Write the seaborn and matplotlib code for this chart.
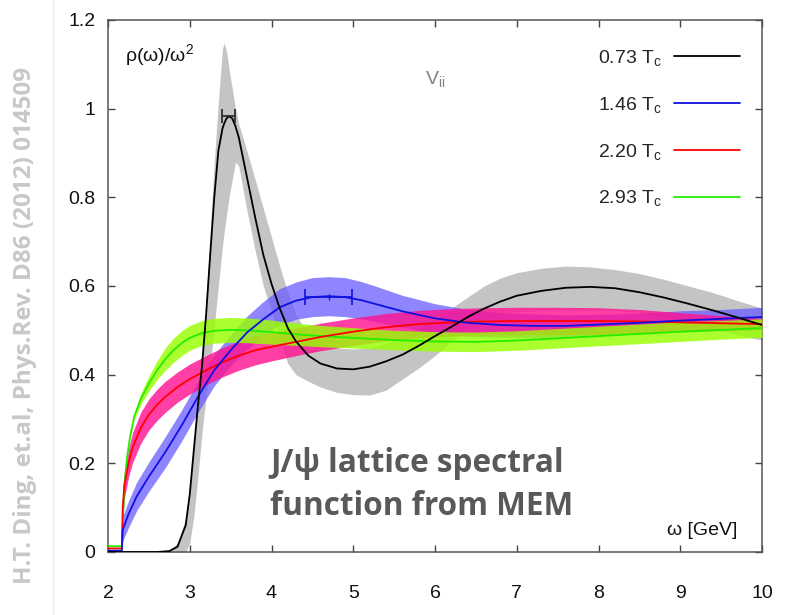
import matplotlib
matplotlib.use("Agg")
import matplotlib.pyplot as plt
from matplotlib.lines import Line2D
import seaborn as sns

# ---------------- data ----------------
# 0.73 Tc (black curve + grey band)
bx = [2.00, 2.60, 2.75, 2.85, 2.95, 3.00, 3.05, 3.10, 3.15, 3.20, 3.25, 3.30, 3.35, 3.40, 3.42,
      3.45, 3.48, 3.52, 3.56, 3.60, 3.65, 3.70, 3.80, 3.90, 4.00, 4.10, 4.20, 4.30, 4.45, 4.60,
      4.80, 5.00, 5.20, 5.40, 5.60, 5.80, 6.00, 6.20, 6.40, 6.60, 6.80, 7.00, 7.30, 7.60, 7.90,
      8.20, 8.50, 8.80, 9.10, 9.40, 9.70, 10.0]
by = [0.0, 0.0, 0.002, 0.012, 0.06, 0.13, 0.23, 0.33, 0.42, 0.535, 0.67, 0.80, 0.905, 0.955, 0.966,
      0.978, 0.983, 0.978, 0.96, 0.935, 0.89, 0.845, 0.755, 0.67, 0.605, 0.55, 0.505, 0.475, 0.443, 0.425,
      0.414, 0.412, 0.418, 0.43, 0.445, 0.465, 0.487, 0.508, 0.53, 0.549, 0.565, 0.578, 0.589, 0.596, 0.598,
      0.595, 0.586, 0.574, 0.56, 0.545, 0.529, 0.512]
by_hi = [0.0, 0.0, 0.004, 0.02, 0.075, 0.15, 0.25, 0.35, 0.45, 0.57, 0.72, 0.88, 1.017, 1.135, 1.148,
         1.13, 1.09, 1.045, 1.0, 0.965, 0.935, 0.904, 0.84, 0.775, 0.71, 0.645, 0.585, 0.535, 0.49, 0.47,
         0.46, 0.458, 0.46, 0.47, 0.485, 0.505, 0.525, 0.55, 0.575, 0.60, 0.618, 0.63, 0.64, 0.645, 0.643,
         0.637, 0.628, 0.615, 0.60, 0.585, 0.567, 0.55]
by_lo = [0.0, 0.0, 0.0, 0.0, 0.0, 0.02, 0.08, 0.17, 0.27, 0.35, 0.42, 0.51, 0.60, 0.69, 0.72,
         0.76, 0.80, 0.84, 0.88, 0.87, 0.82, 0.77, 0.68, 0.60, 0.542, 0.48, 0.425, 0.40, 0.385, 0.372,
         0.36, 0.355, 0.354, 0.365, 0.39, 0.415, 0.443, 0.475, 0.505, 0.525, 0.537, 0.542, 0.545, 0.546, 0.546,
         0.545, 0.54, 0.53, 0.52, 0.505, 0.49, 0.478]

# 1.46 Tc (blue)
ux = [2.00, 2.17, 2.18, 2.25, 2.35, 2.5, 2.7, 2.9, 3.1, 3.3, 3.5, 3.7, 3.9, 4.1, 4.3, 4.5, 4.7,
      4.9, 5.1, 5.3, 5.6, 6.0, 6.4, 6.8, 7.2, 7.6, 8.0, 8.5, 9.0, 9.5, 10.0]
uy = [0.003, 0.003, 0.05, 0.085, 0.125, 0.17, 0.225, 0.285, 0.35, 0.41, 0.455, 0.495, 0.525, 0.552,
      0.567, 0.575, 0.577, 0.575, 0.568, 0.558, 0.543, 0.527, 0.517, 0.512, 0.51, 0.51, 0.513, 0.517,
      0.522, 0.526, 0.53]
uy_lo = [0.003, 0.003, 0.025, 0.055, 0.093, 0.137, 0.19, 0.25, 0.315, 0.375, 0.42, 0.458, 0.487, 0.512,
         0.525, 0.531, 0.533, 0.531, 0.526, 0.518, 0.507, 0.494, 0.487, 0.484, 0.483, 0.485, 0.49, 0.495,
         0.50, 0.505, 0.508]
uy_hi = [0.003, 0.003, 0.08, 0.115, 0.157, 0.203, 0.26, 0.32, 0.385, 0.445, 0.49, 0.532, 0.565, 0.594,
         0.609, 0.619, 0.621, 0.619, 0.61, 0.598, 0.579, 0.56, 0.547, 0.54, 0.537, 0.535, 0.536, 0.539,
         0.544, 0.547, 0.552]

# 2.20 Tc (red)
rx = [2.00, 2.17, 2.18, 2.20, 2.25, 2.3, 2.4, 2.5, 2.6, 2.7, 2.85, 3.0, 3.2, 3.4, 3.6, 3.8, 4.0,
      4.3, 4.6, 5.0, 5.4, 5.8, 6.2, 6.6, 7.0, 7.5, 8.0, 8.5, 9.0, 9.5, 10.0]
ry = [0.008, 0.008, 0.10, 0.15, 0.20, 0.235, 0.28, 0.31, 0.332, 0.35, 0.372, 0.39, 0.41, 0.428, 0.443,
      0.455, 0.463, 0.474, 0.485, 0.497, 0.507, 0.514, 0.518, 0.52, 0.521, 0.521, 0.521, 0.52, 0.518,
      0.516, 0.514]
ry_lo = [0.008, 0.008, 0.075, 0.12, 0.168, 0.201, 0.245, 0.275, 0.297, 0.315, 0.338, 0.356, 0.377, 0.395,
         0.41, 0.422, 0.431, 0.443, 0.454, 0.466, 0.476, 0.483, 0.487, 0.489, 0.49, 0.49, 0.491, 0.493,
         0.496, 0.499, 0.501]
ry_hi = [0.008, 0.008, 0.125, 0.18, 0.232, 0.269, 0.315, 0.345, 0.367, 0.385, 0.406, 0.424, 0.443, 0.461,
         0.476, 0.488, 0.495, 0.505, 0.516, 0.528, 0.538, 0.545, 0.549, 0.551, 0.552, 0.552, 0.551, 0.547,
         0.54, 0.533, 0.527]

# 2.93 Tc (green)
gx = [2.00, 2.17, 2.18, 2.20, 2.23, 2.27, 2.32, 2.4, 2.5, 2.6, 2.7, 2.8, 2.9, 3.0, 3.15, 3.3, 3.5,
      3.7, 4.0, 4.3, 4.6, 5.0, 5.5, 6.0, 6.5, 7.0, 7.5, 8.0, 8.5, 9.0, 9.5, 10.0]
gy = [0.013, 0.013, 0.06, 0.15, 0.21, 0.26, 0.305, 0.345, 0.38, 0.41, 0.435, 0.455, 0.471, 0.483, 0.494,
      0.499, 0.501, 0.5, 0.496, 0.491, 0.487, 0.483, 0.478, 0.475, 0.474, 0.477, 0.482, 0.487, 0.492,
      0.497, 0.501, 0.505]
gy_lo = [0.013, 0.013, 0.06, 0.15, 0.208, 0.256, 0.298, 0.333, 0.363, 0.389, 0.41, 0.428, 0.443, 0.455,
         0.466, 0.471, 0.473, 0.472, 0.469, 0.466, 0.463, 0.46, 0.456, 0.453, 0.452, 0.455, 0.46, 0.465,
         0.47, 0.475, 0.48, 0.484]
gy_hi = [0.013, 0.013, 0.06, 0.15, 0.212, 0.264, 0.312, 0.357, 0.397, 0.431, 0.46, 0.482, 0.499, 0.511,
         0.522, 0.527, 0.529, 0.528, 0.523, 0.516, 0.511, 0.506, 0.50, 0.497, 0.496, 0.499, 0.504, 0.509,
         0.514, 0.519, 0.522, 0.526]

# peak positions with horizontal error bars
pk_black_x, pk_black_y, pk_black_err = 3.475, 0.983, 0.075
pk_blue_x, pk_blue_y, pk_blue_err = 4.70, 0.575, 0.29

labels = ["0.73 T$_{c}$", "1.46 T$_{c}$", "2.20 T$_{c}$", "2.93 T$_{c}$"]

# ---------------- style ----------------
sns.set_style("ticks")
plt.rcParams["font.family"] = ["Liberation Sans", "DejaVu Sans"]
plt.rcParams["mathtext.default"] = "regular"

W, H = 794, 615
fig = plt.figure(figsize=(W / 100, H / 100), dpi=100)
ax = fig.add_axes([108 / W, 1 - 552 / H, 654 / W, 532 / H])

# bands
ax.fill_between(bx, by_lo, by_hi, color="#c4c4c4", lw=0, zorder=1)
ax.fill_between(ux, uy_lo, uy_hi, color="#6a5cff", alpha=0.75, lw=0, zorder=2)
ax.fill_between(rx, ry_lo, ry_hi, color="#ff1493", alpha=0.82, lw=0, zorder=3)
ax.fill_between(gx, gy_lo, gy_hi, color="#99ff00", alpha=0.82, lw=0, zorder=4)

# central lines
sns.lineplot(x=bx, y=by, color="black", lw=1.3, label=labels[0], ax=ax, zorder=10)
sns.lineplot(x=ux, y=uy, color="#1010e0", lw=1.3, label=labels[1], ax=ax, zorder=9)
sns.lineplot(x=rx, y=ry, color="#ff0000", lw=1.3, label=labels[2], ax=ax, zorder=8)
sns.lineplot(x=gx, y=gy, color="#22ee00", lw=1.3, label=labels[3], ax=ax, zorder=7)

# error bars at peaks
ax.errorbar([pk_black_x], [pk_black_y], xerr=[pk_black_err], color="#222222", lw=1.2,
            capsize=5, capthick=1.2, fmt="none", zorder=11)
ax.errorbar([pk_blue_x], [pk_blue_y], xerr=[pk_blue_err], color="#1010e0", lw=1.2,
            capsize=6, capthick=1.2, fmt="none", zorder=11)
ax.plot([pk_blue_x], [pk_blue_y], marker="|", ms=5, color="#1010e0", zorder=11)

ax.set_xlim(2, 10)
ax.set_ylim(0, 1.2)
ax.set_xticks(range(2, 11))
ax.set_yticks([0, 0.2, 0.4, 0.6, 0.8, 1.0, 1.2])
ax.set_xticklabels([str(v) for v in range(2, 11)])
ax.set_yticklabels(["0", "0.2", "0.4", "0.6", "0.8", "1", "1.2"])
ax.set_xlabel("")
ax.set_ylabel("")
for s in ax.spines.values():
    s.set_visible(True)
    s.set_color("#555555")
    s.set_linewidth(1.1)
ax.tick_params(axis="both", direction="in", length=5, width=1, color="#444444",
               labelsize=14, labelcolor="#111111", top=True, right=True)
ax.tick_params(axis="x", pad=24)
ax.tick_params(axis="y", pad=9)

# legend
leg = ax.legend(loc="upper right", bbox_to_anchor=(740 / W, 1 - 48 / H),
                bbox_transform=fig.transFigure, frameon=False, markerfirst=False,
                fontsize=14, handlelength=3.4, handletextpad=0.6, labelspacing=1.38,
                borderpad=0, borderaxespad=0)
for h in leg.get_lines():
    h.set_linewidth(1.3)

# texts
fig.text(125 / W, 1 - 61 / H, "ρ(ω)/ω$^{2}$", fontsize=14, color="#111111", va="baseline")
fig.text(425 / W, 1 - 84 / H, "V$_{ii}$", fontsize=14, color="#808080", va="baseline")
fig.text(270 / W, 1 - 472 / H, "J/ψ lattice spectral", fontsize=22.7, fontweight="bold",
         color="#595959", va="baseline", family=["Open Sans", "DejaVu Sans"])
fig.text(270 / W, 1 - 515 / H, "function from MEM", fontsize=22.7, fontweight="bold",
         color="#595959", va="baseline", family=["Open Sans", "DejaVu Sans"])
fig.text(737 / W, 1 - 535 / H, "ω [GeV]", fontsize=14, color="#111111", ha="right", va="baseline")

fig.text(25 / W, 1 - 325 / H, "H.T. Ding, et.al, Phys.Rev. D86 (2012) 014509", rotation=90,
         fontsize=17.5, fontweight="bold", color="#c8c8c8", ha="center", va="center",
         family=["Open Sans", "DejaVu Sans"])
fig.add_artist(Line2D([53 / W, 53 / W], [0.0, 1.0], transform=fig.transFigure,
                      color="#eeeeee", lw=1))

fig.savefig("out.png", dpi=100)
